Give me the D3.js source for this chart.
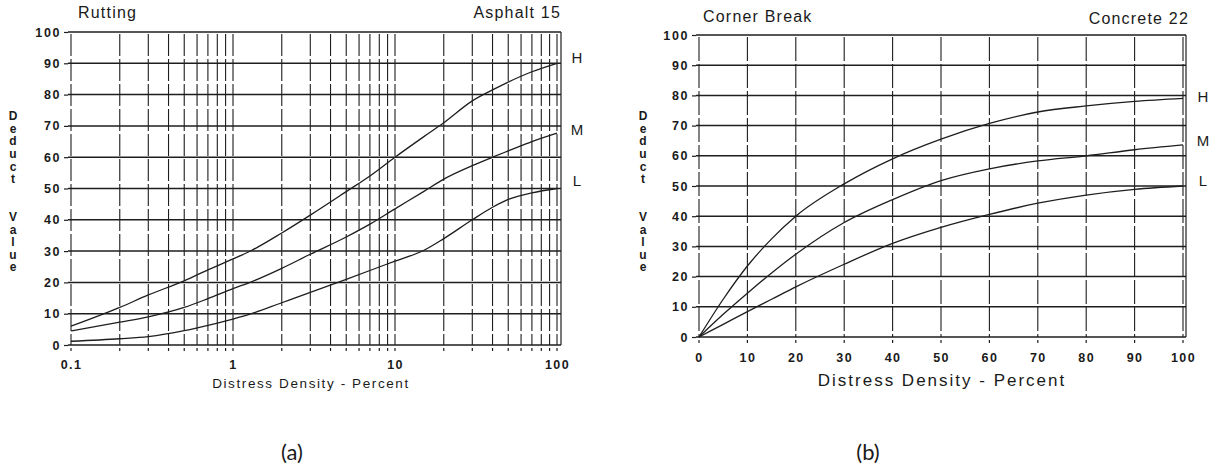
<!DOCTYPE html>
<html><head><meta charset="utf-8">
<script src="https://cdn.jsdelivr.net/npm/d3@7"></script>
<style>
body{margin:0;background:#fff;}
svg{display:block;}
text{fill:#1a1a1a;font-family:"Liberation Sans",Arial,sans-serif;}
</style></head>
<body>
<svg id="c" width="1215" height="467"></svg>
<script>
// ---- data: chart (a) Rutting, Asphalt 15 (log x) ----
const densityA = [0.1, 0.2, 0.3, 0.5, 0.7, 1, 1.3, 2, 3, 5, 7, 10, 15, 20, 30, 40, 50, 70, 100];
const highA    = [6, 12, 16, 20.5, 24, 27.5, 30.2, 35.8, 41.5, 49, 54, 60, 66.5, 71, 78, 81.5, 84, 87.3, 90];
const medA     = [4.5, 7.3, 9, 12, 14.8, 18, 20.2, 24.5, 29, 34.5, 38.6, 43.5, 49, 53, 57.3, 60, 62, 65, 67.7];
const lowA     = [1.2, 2, 2.7, 4.6, 6.3, 8.3, 10, 13.5, 16.8, 21, 23.8, 26.8, 30.2, 34, 40, 44, 46.5, 48.6, 50];
const xTicksA  = [0.1, 1, 10, 100];
const xTickLabelsA = ["0.1", "1", "10", "100"];

// ---- data: chart (b) Corner Break, Concrete 22 (linear x) ----
const densityB = [0, 5, 10, 15, 20, 30, 40, 50, 60, 70, 80, 90, 100];
const highB    = [0, 12.5, 23.5, 32.5, 40, 50.7, 59, 65.5, 70.7, 74.5, 76.5, 78, 79];
const medB     = [0, 7.5, 14.5, 21.2, 27.4, 37.9, 45.5, 51.8, 55.7, 58.3, 60, 62, 63.6];
const lowB     = [0, 4.2, 8.4, 12.5, 16.6, 24.1, 31, 36.3, 40.6, 44.3, 47, 48.9, 50];
const xTicksB  = [0, 10, 20, 30, 40, 50, 60, 70, 80, 90, 100];

const yTicks = [0, 10, 20, 30, 40, 50, 60, 70, 80, 90, 100];
const levels = ["H", "M", "L"];
const yLabelLetters = ["D","e","d","u","c","t","","","V","a","l","u","e"];

const svg = d3.select("#c");
svg.append("rect").attr("width",1215).attr("height",467).attr("fill","#fff");
const ink = "#1e1e1e";

function drawChart(cfg){
  const g = svg.append("g");
  const {x, y} = cfg;
  const [x0, x1] = x.range();
  const [yb, yt] = y.range();

  g.selectAll(".vg").data(cfg.vgrid).join("line")
    .attr("x1", d => x(d)).attr("x2", d => x(d))
    .attr("y1", yt + 2).attr("y2", yb)
    .attr("stroke", ink).attr("stroke-width", 1.1)
    .attr("stroke-dasharray", cfg.dash);
  g.selectAll(".mt").data(cfg.vgrid).join("line")
    .attr("x1", d => x(d)).attr("x2", d => x(d))
    .attr("y1", yb + 3).attr("y2", yb + 6)
    .attr("stroke", ink).attr("stroke-width", 1.2);
  g.selectAll(".hg").data(yTicks).join("line")
    .attr("x1", x0 - 3).attr("x2", x1 + cfg.ext)
    .attr("y1", d => y(d)).attr("y2", d => y(d))
    .attr("stroke", ink).attr("stroke-width", 1.5);
  g.append("line").attr("x1", x1 + cfg.ext).attr("x2", x1 + cfg.ext)
    .attr("y1", yt).attr("y2", yb).attr("stroke", ink).attr("stroke-width", 1.2);

  const ya = d3.axisLeft(y).tickValues(yTicks).tickSize(4).tickPadding(3);
  const yg = g.append("g").attr("transform", `translate(${x0 - 3},0)`).call(ya);
  yg.select(".domain").remove();
  yg.selectAll(".tick line").attr("stroke", ink).attr("stroke-width", 1.2);
  yg.selectAll(".tick text").attr("font-size", 12.5).attr("font-weight", "bold")
    .attr("letter-spacing", "1.6px").attr("fill", ink)
    .style("font-family", '"Liberation Sans",Arial,sans-serif');

  const xa = d3.axisBottom(x).tickValues(cfg.xticks).tickSize(0).tickPadding(cfg.xpad)
    .tickFormat((d, i) => cfg.xlabels[i]);
  const xg = g.append("g").attr("transform", `translate(0,${yb})`).call(xa);
  xg.select(".domain").remove();
  xg.selectAll(".tick text").attr("font-size", 12.5).attr("font-weight", "bold")
    .attr("letter-spacing", "1.4px").attr("fill", ink)
    .style("font-family", '"Liberation Sans",Arial,sans-serif');

  const line = d3.line().x(d => x(d[0])).y(d => y(d[1])).curve(d3.curveMonotoneX);
  cfg.series.forEach(s => {
    g.append("path").datum(cfg.dens.map((d, i) => [d, s[i]]))
      .attr("d", line).attr("fill", "none")
      .attr("stroke", ink).attr("stroke-width", 1.3);
  });
  cfg.series.forEach((s, i) => {
    g.append("text").attr("x", x1 + cfg.lblDx).attr("y", y(s[s.length - 1]) + cfg.lblDy[i])
      .attr("font-size", 15).attr("text-anchor", "middle").attr("dominant-baseline", "middle")
      .text(levels[i]);
  });

  g.append("text").attr("x", cfg.titleX).attr("y", cfg.titleY).attr("font-size", 16)
    .attr("letter-spacing", "1.2px").text(cfg.title);
  g.append("text").attr("x", cfg.subX).attr("y", cfg.titleY + cfg.subDy).attr("font-size", 16)
    .attr("text-anchor", "end").attr("letter-spacing", "1.2px").text(cfg.sub);
  g.append("text").attr("x", cfg.xtX).attr("y", cfg.xtY).attr("font-size", cfg.xtSize)
    .attr("text-anchor", "middle").attr("letter-spacing", cfg.xtLs).text("Distress Density - Percent");
  g.selectAll(".yl").data(yLabelLetters).join("text")
    .attr("x", cfg.ylX).attr("y", (d, i) => 117 + i * 12.6)
    .attr("font-size", 12).attr("font-weight", "bold").attr("text-anchor", "middle")
    .attr("dominant-baseline", "middle").text(d => d);
  g.append("text").attr("x", cfg.capX).attr("y", 460).attr("font-size", 22)
    .attr("text-anchor", "middle").style("font-family", "Lato, 'Open Sans', sans-serif")
    .text(cfg.cap);
}

const minorA = [];
[0.1, 1, 10].forEach(dec => { for (let k = 1; k < 10; k++) minorA.push(dec * k); });
minorA.push(100);

drawChart({
  x: d3.scaleLog().domain([0.1, 100]).range([71, 557]),
  y: d3.scaleLinear().domain([0, 100]).range([345, 32]),
  vgrid: minorA, dash: "22,3", ext: 4,
  xticks: xTicksA, xlabels: xTickLabelsA, xpad: 15,
  dens: densityA, series: [highA, medA, lowA],
  lblDx: 20, lblDy: [-4, -2, -6],
  title: "Rutting", titleX: 78, titleY: 18, sub: "Asphalt 15", subX: 561, subDy: 0,
  xtX: 311, xtY: 388, xtSize: 13.5, xtLs: "1.6px",
  ylX: 13, capX: 292, cap: "(a)"
});

drawChart({
  x: d3.scaleLinear().domain([0, 100]).range([699, 1183]),
  y: d3.scaleLinear().domain([0, 100]).range([337, 35]),
  vgrid: xTicksB, dash: "24,3", ext: 3,
  xticks: xTicksB, xlabels: xTicksB.map(String), xpad: 16,
  dens: densityB, series: [highB, medB, lowB],
  lblDx: 20, lblDy: [0, -3, -4],
  title: "Corner Break", titleX: 703, titleY: 22, sub: "Concrete 22", subX: 1189, subDy: 2,
  xtX: 942, xtY: 386, xtSize: 17, xtLs: "2px",
  ylX: 643, capX: 868, cap: "(b)"
});
</script>
</body></html>
